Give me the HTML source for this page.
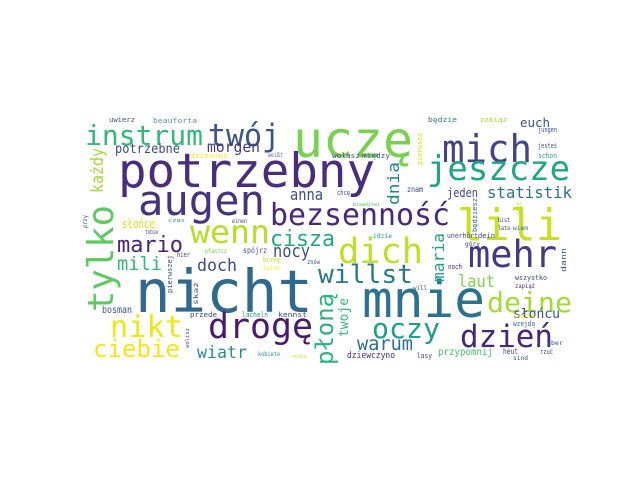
<!DOCTYPE html>
<html>
<head>
<meta charset="utf-8">
<style>
html,body{margin:0;padding:0;background:#fff;}
svg{display:block;}
text{font-family:"DejaVu Sans Mono","Liberation Mono",monospace;}
</style>
</head>
<body>
<svg id="cloud" width="640" height="480" viewBox="0 0 640 480" xmlns="http://www.w3.org/2000/svg">
<rect x="0" y="0" width="640" height="480" fill="#ffffff"/>
<g id="words"></g>
</svg>
<script>
// word cloud data: words and their relative weights (font size)
const words = ["nicht","mnie","uczę","potrzebny","augen","lili","mich","mehr","dich","drogę","tylko","jeszcze","dzień","wenn","twój","bezsenność","nikt","deine","oczy","instrum","willst","ciebie","płoną","cisza","mario","mili","warum","nocy","doch","laut","wiatr","każdy","statistik","anna","dnia","maria","morgen","potrzebne","twoje","słońcu","słońce","euch","jeden","przypomnij","bosman","dziewczyno","heut","znam","uwierz","beauforta","będzie","zakiąż","jungen","jesteś","schon","dziesięć","weißt","wolasz","między","pierwszą","chcę","prawdziwi","czas","einen","przy","tobie","będziesz","jest","bist","lata","wiem","idzie","unerhört","dein","góry","noch","hier","płaszcz","spójrz","brzeg","świat","znów","pierwszej","skaż","dann","wszystko","zapiąż","will","przede","lächeln","kennst","czorta","wzejdą","aber","wolisz","lasy","rzuć","sind","kobieto","może"];
const weights = [59,51,50,47,42,44,38,37,35,35,36,34,31,32,31,30,30,28,28,28,26,24,24,22,22,19,19,18,17,17,17,17,16,16,16,16,15,13,13,13,12,12,12,10,10,9,8,8,7,7,7,7,7,7,7,7,6,7,7,7,7,5,5,6,6,6,7,7,6,6,6,6,7,7,6,7,7,6,8,7,6,6,7,6,7,7,6,6,7,7,7,7,7,6,5,7,7,6,6,5];
const colors = ["#31688e","#2c728e","#7ad151","#472d7b","#46337e","#c8e020","#414487","#443983","#bddf26","#481a6c","#5ec962","#21a685","#472878","#b5de2b","#3b528b","#482878","#f1e51d","#a2da37","#1f9e89","#35b779","#2a788e","#f4e61e","#2db27d","#22a884","#482475","#35b779","#2e6f8e","#3b528b","#3e4989","#7fd34e","#2c8e8d","#a0da39","#2c728e","#3e4c8a","#26828e","#1fa187","#443983","#3e4989","#37b878","#39558c","#d8e219","#3b528b","#3e4a89","#43bf71","#3b528b","#472d7b","#3e4989","#414487","#3b528b","#5a8fa8","#26828e","#a0da39","#3e4989","#3e4989","#2a9d8f","#fde725","#6b6b8a","#3e4c8a","#3b528b","#d8e219","#3e4989","#5ec962","#2a9d8f","#3e4989","#3b528b","#3e4989","#31688e","#b5de2b","#414487","#3e4989","#31688e","#21a685","#3e4989","#3e4989","#3e4989","#482878","#3e4989","#7ad151","#3b528b","#c8e020","#fde725","#3e4989","#3e4989","#3e4989","#3b528b","#3e4989","#472d7b","#3b528b","#3e4989","#2c8e8d","#3e4989","#d8e219","#31688e","#3b528b","#3e4989","#3e4989","#3e4989","#3b528b","#2c8e8d","#d8e219"];
// layout (x, baseline y, fitted length, rotation)
const layout = [
[135,312,178,0],[362,317,123,0],[293,157,120,0],[118,187,257,0],[138,215,127,0],[457,240,105,0],[442,162,90,0],[468,267,89,0],[338,263,85,0],[208,338,105,0],
[113,312,107,1],[427,180,143,0],[460,347,93,0],[190,243,80,0],[208,146,72,0],[270,225,180,0],[110,337,73,0],[487,312,85,0],[372,338,68,0],[85,145,118,0],
[318,283,95,0],[93,357,87,0],[333,365,72,1],[270,246,65,0],[117,252,66,0],[117,270,45,0],[357,350,56,0],[273,257,37,0],[197,271,40,0],[458,287,37,0],
[197,358,50,0],[103,193,45,1],[487,198,85,0],[290,200,33,0],[399,205,43,1],[444,282,49,1],[207,152,53,0],[115,153,65,0],[348,337,39,1],[513,318,47,0],
[122,228,33,0],[520,127,30,0],[447,197,31,0],[438,355,55,0],[102,313,30,0],[347,358,48,0],[503,354,15,0],[407,192,16,0],[109,122,26,0],[153,123,44,0],
[428,122,29,0],[480,122,27,0],[538,132,19,0],[538,148,19,0],[538,158,19,0],[190,158,38,0],[268,157,15,0],[332,158,28,0],[362,158,28,0],[422,165,32,1],
[337,195,13,0],[353,206,27,0],[168,222,17,0],[232,223,15,0],[87,228,13,1],[145,234,13,0],[477,232,34,1],[521,215,13,1],[498,222,12,0],[498,230,12,0],
[513,230,15,0],[373,238,19,0],[447,238,31,0],[478,238,17,0],[465,246,15,0],[448,269,14,0],[177,257,13,0],[205,253,22,0],[243,253,24,0],[263,262,17,0],
[263,270,17,0],[307,264,13,0],[172,293,38,1],[198,305,23,1],[566,272,24,1],[515,280,32,0],[515,288,20,0],[413,290,14,0],[190,317,27,0],[242,317,26,0],
[278,317,29,0],[513,318,22,0],[513,326,22,0],[547,345,16,0],[189,348,20,1],[417,358,15,0],[540,354,13,0],[513,360,15,0],[258,356,22,0],[293,358,14,0]
];
const g = document.getElementById('words');
const NS = 'http://www.w3.org/2000/svg';
for (let i = 0; i < words.length; i++) {
  const t = document.createElementNS(NS, 'text');
  const L = layout[i];
  
  
  t.setAttribute('font-size', weights[i]);
  t.setAttribute('fill', colors[i]);
  t.setAttribute('textLength', L[2]);
  t.setAttribute('lengthAdjust', 'spacingAndGlyphs');
  if (L[3] === 1) {
    t.setAttribute('transform', 'translate(' + L[0] + ',' + L[1] + ') rotate(-90)');
    t.setAttribute('x', 0);
    t.setAttribute('y', 0);
  } else {
    t.setAttribute('x', L[0]);
    t.setAttribute('y', L[1]);
  }
  t.textContent = words[i];
  g.appendChild(t);
}
</script>
</body>
</html>
